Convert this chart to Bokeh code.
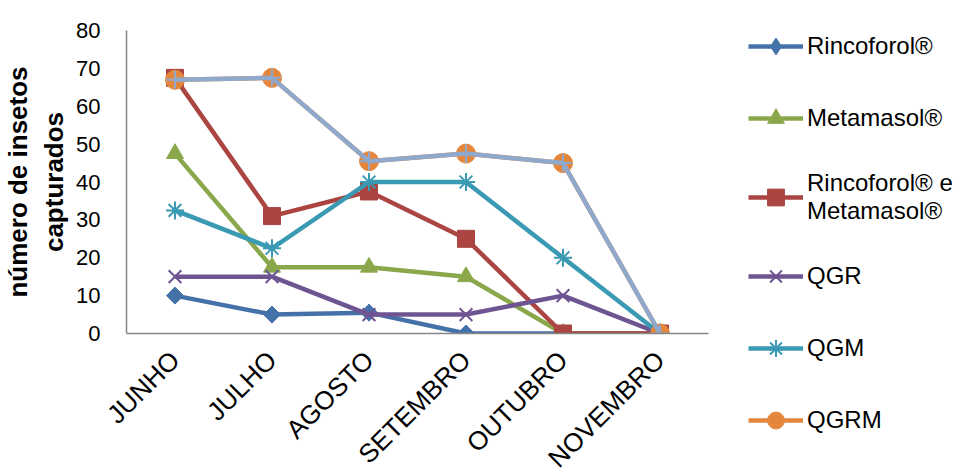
import math
from bokeh.plotting import figure
from bokeh.models import FactorRange, Range1d, Legend, LegendItem, FixedTicker
from bokeh.embed import file_html
from bokeh.resources import INLINE

months = ["JUNHO", "JULHO", "AGOSTO", "SETEMBRO", "OUTUBRO", "NOVEMBRO"]
rincoforol = [10, 5, 5.5, 0, 0, 0]
metamasol = [47.5, 17.5, 17.5, 15, 0, 0]
rinc_meta = [67.5, 31, 37.5, 25, 0, 0]
qgr = [15, 15, 5, 5, 10, 0]
qgm = [32.5, 22.5, 40, 40, 20, 0]
qgrm = [67, 67.5, 45.5, 47.5, 45, 0]
serie7 = [67, 67.5, 45.5, 47.5, 45, 0]
y_ticks = [0, 10, 20, 30, 40, 50, 60, 70, 80]

FONT = "Liberation Sans"

p = figure(x_range=FactorRange(*months), y_range=Range1d(0, 80),
           frame_width=582, frame_height=303,
           min_border_left=126, min_border_top=30, min_border_bottom=138,
           min_border_right=262,
           output_backend="svg", toolbar_location=None)
p.outline_line_color = None
p.xgrid.visible = False
p.ygrid.visible = False
p.background_fill_color = "white"
p.border_fill_color = "white"

series = [
    ("Rincoforol®", rincoforol, "#4472A8", "diamond", 12, 0),
    ("Metamasol®", metamasol, "#8AA84B", "triangle", 17, 0),
    ("Rincoforol® e\nMetamasol®", rinc_meta, "#AA4542", "square", 17, 0),
    ("QGR", qgr, "#6E5592", "x", 18, 0),
    ("QGM", qgm, "#3A99B3", "asterisk", 18, 0),
    ("QGRM", qgrm, "#E4873D", "circle", 19, 0),
]

items = []
for name, vals, col, marker, size, ang in series:
    ln = p.line(months, vals, line_color=col, line_width=4.5)
    if marker in ("x", "asterisk"):
        sc = p.scatter(months, vals, marker=marker, size=size, line_color=col,
                       line_width=2, fill_color=col)
    elif marker == "diamond":
        # legend-friendly diamond, covered by a rotated square in the chart
        sc = p.scatter(months, vals, marker="diamond", size=16,
                       fill_color=col, line_color=col, line_width=1)
        p.scatter(months, vals, marker="square", size=size, angle=math.pi / 4,
                  fill_color=col, line_color=col, line_width=1)
    else:
        sc = p.scatter(months, vals, marker=marker, size=size, angle=ang,
                       fill_color=col, line_color=col, line_width=1)
    items.append(LegendItem(label=name, renderers=[ln, sc]))

# seventh series (drawn over QGRM, not listed in the legend)
p.line(months, serie7, line_color="#8FA9CD", line_width=4.5)
p.scatter(months, serie7, marker="cross", size=18, line_color="#8FA9CD", line_width=2)

legend = Legend(items=items, location=(40, -108), margin=0, padding=0)
legend.border_line_color = None
legend.background_fill_alpha = 0
legend.label_text_font = FONT
legend.label_text_font_size = "24px"
legend.label_text_color = "black"
legend.glyph_width = 55
legend.glyph_height = 42
legend.label_standoff = 4
legend.spacing = 30
p.add_layout(legend, "right")

for ax in (p.xaxis[0], p.yaxis[0]):
    ax.axis_line_color = "#868686"
    ax.axis_line_width = 1.5
    ax.major_tick_in = 0
    ax.major_tick_out = 0
    ax.minor_tick_line_color = None
    ax.major_label_text_font = FONT
    ax.major_label_text_color = "black"

p.yaxis.major_label_text_font_size = "22px"
p.xaxis.major_label_text_font_size = "26px"

p.yaxis.ticker = FixedTicker(ticks=y_ticks)
p.yaxis.major_label_standoff = 26
p.yaxis.axis_label = "número de insetos\ncapturados"
p.yaxis.axis_label_text_font = FONT
p.yaxis.axis_label_text_font_size = "26px"
p.yaxis.axis_label_text_font_style = "bold"
p.yaxis.axis_label_text_color = "black"
p.yaxis.axis_label_standoff = 4

p.xaxis.major_label_orientation = math.pi / 4
p.xaxis.major_label_standoff = 22

open("out.html", "w").write(file_html(p, INLINE))
